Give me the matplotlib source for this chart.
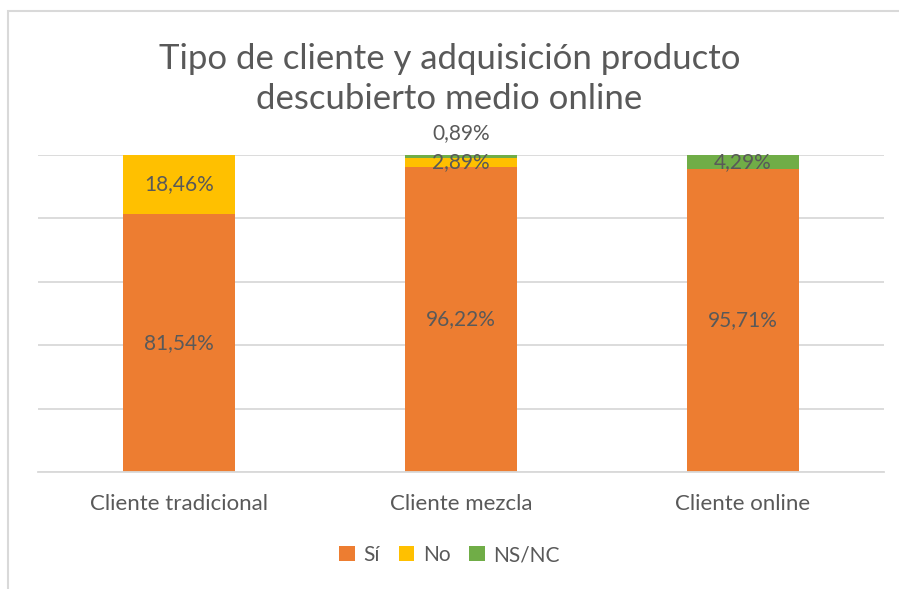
import matplotlib.pyplot as plt
import numpy as np
from matplotlib.patches import Rectangle

plt.rcParams['font.family'] = ['Lato', 'DejaVu Sans']

categorias = ['Cliente tradicional', 'Cliente mezcla', 'Cliente online']
si = [81.54, 96.22, 95.71]
no = [18.46, 2.89, 0.0]
nsnc = [0.0, 0.89, 4.29]

c_si = '#ED7D31'
c_no = '#FFC000'
c_ns = '#70AD47'
gris = '#595959'

fig = plt.figure(figsize=(8.99, 5.89), dpi=100)
ax = fig.add_axes([38/899, 1 - 472/589, 846/899, 317/589])

x = np.arange(len(categorias))
w = 0.40
ax.bar(x, si, w, color=c_si, label='Sí')
ax.bar(x, no, w, bottom=si, color=c_no, label='No')
ax.bar(x, nsnc, w, bottom=np.array(si) + np.array(no), color=c_ns, label='NS/NC')

def fmt(v):
    return f'{v:.2f}%'.replace('.', ',')

fs = 15
for i in range(len(x)):
    ax.text(x[i], si[i] / 2, fmt(si[i]), ha='center', va='center', fontsize=fs, color=gris)
    if no[i] > 0:
        ax.text(x[i], si[i] + no[i] / 2, fmt(no[i]), ha='center', va='center', fontsize=fs, color=gris)
    if nsnc[i] > 0:
        if nsnc[i] < 2:
            # etiqueta movida encima de la barra
            ax.text(x[i], 107, fmt(nsnc[i]), ha='center', va='center', fontsize=fs, color=gris, clip_on=False)
        else:
            ax.text(x[i], si[i] + no[i] + nsnc[i] / 2, fmt(nsnc[i]), ha='center', va='center', fontsize=fs, color=gris)

ax.set_xlim(-0.5, 2.5)
ax.set_ylim(0, 100)
ax.set_yticks([0, 20, 40, 60, 80, 100])
ax.yaxis.grid(True, color='#D9D9D9', linewidth=1.3)
ax.set_axisbelow(True)
ax.tick_params(left=False, labelleft=False, bottom=False)
ax.set_xticks(x)
ax.set_xticklabels(categorias, fontsize=16, color=gris)
ax.tick_params(axis='x', pad=12)
for s in ['top', 'right', 'left']:
    ax.spines[s].set_visible(False)
ax.spines['bottom'].set_color('#D9D9D9')
ax.spines['bottom'].set_linewidth(1.3)

fig.text(0.5, 1 - 79/589, 'Tipo de cliente y adquisición producto\ndescubierto medio online',
         ha='center', va='center', fontsize=25, color=gris, linespacing=1.3)

fig.legend(loc='center', bbox_to_anchor=(0.5, 1 - 555/589), ncol=3, frameon=False,
           fontsize=15, labelcolor=gris, handlelength=0.75, handleheight=0.75,
           handletextpad=0.4, columnspacing=0.9)

fig.patches.append(Rectangle((8/899, -0.1), 1.1, 1 - 10.5/589 + 0.1, transform=fig.transFigure,
                             fill=False, edgecolor='#D9D9D9', linewidth=1.5))

fig.savefig('out.png', dpi=100)
